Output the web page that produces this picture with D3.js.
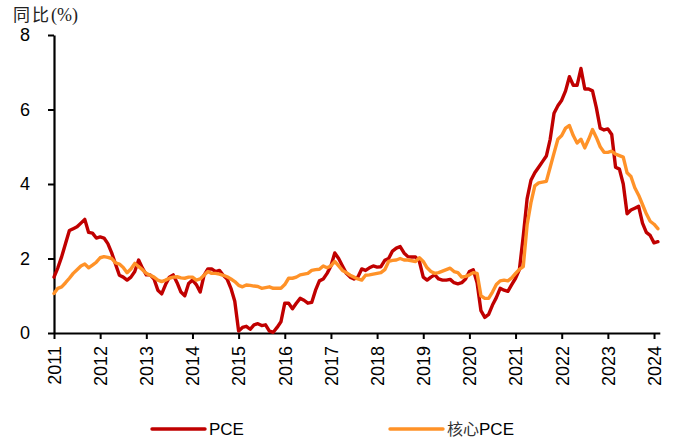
<!DOCTYPE html>
<html>
<head>
<meta charset="utf-8">
<script src="https://cdn.jsdelivr.net/npm/d3@7"></script>
<style>
  body { margin: 0; background: #fff; }
  svg { display: block; font-family: "Liberation Sans", Arial, sans-serif; }
</style>
</head>
<body>
<div id="chart"></div>
<script>
// monthly YoY %, Jan 2011 - Feb 2024
const pce = [
  1.5, 1.75, 2.05, 2.4, 2.75, 2.8, 2.85, 2.95, 3.05, 2.7, 2.68, 2.55,      // 2011
  2.58, 2.55, 2.4, 2.15, 1.85, 1.55, 1.5, 1.42, 1.5, 1.65, 1.96, 1.74,     // 2012
  1.56, 1.56, 1.45, 1.15, 1.05, 1.3, 1.5, 1.56, 1.35, 1.1, 1.0, 1.33,      // 2013
  1.42, 1.3, 1.1, 1.55, 1.72, 1.72, 1.65, 1.68, 1.55, 1.45, 1.2, 0.85,     // 2014
  0.05, 0.15, 0.18, 0.1, 0.22, 0.25, 0.2, 0.22, 0.05, 0.02, 0.15, 0.3,     // 2015
  0.8, 0.8, 0.65, 0.8, 0.93, 0.88, 0.8, 0.82, 1.15, 1.4, 1.45, 1.6,        // 2016
  1.8, 2.15, 2.0, 1.8, 1.6, 1.5, 1.45, 1.5, 1.72, 1.68, 1.75, 1.8,         // 2017
  1.77, 1.78, 1.95, 2.0, 2.2, 2.28, 2.32, 2.15, 2.05, 2.04, 2.04, 1.92,    // 2018
  1.5, 1.42, 1.5, 1.56, 1.45, 1.42, 1.42, 1.44, 1.35, 1.32, 1.35, 1.45,    // 2019
  1.65, 1.7, 1.35, 0.6, 0.42, 0.5, 0.75, 0.95, 1.2, 1.15, 1.12, 1.3,       // 2020
  1.47, 1.7, 2.6, 3.6, 4.1, 4.3, 4.45, 4.6, 4.75, 5.2, 5.9, 6.1,           // 2021
  6.25, 6.5, 6.88, 6.65, 6.65, 7.1, 6.55, 6.55, 6.5, 6.05, 5.5, 5.45,      // 2022
  5.48, 5.33, 4.45, 4.4, 4.0, 3.2, 3.3, 3.35, 3.4, 2.95, 2.7, 2.62,        // 2023
  2.42, 2.45                                                              // 2024
];
const corePce = [
  1.06, 1.2, 1.24, 1.35, 1.47, 1.6, 1.7, 1.8, 1.85, 1.75, 1.82, 1.9,       // 2011
  2.02, 2.05, 2.03, 2.0, 1.88, 1.85, 1.76, 1.62, 1.72, 1.87, 1.78, 1.7,    // 2012
  1.6, 1.55, 1.5, 1.42, 1.38, 1.42, 1.47, 1.5, 1.51, 1.48, 1.47, 1.5,      // 2013
  1.5, 1.42, 1.45, 1.55, 1.65, 1.6, 1.6, 1.58, 1.55, 1.51, 1.45, 1.38,     // 2014
  1.28, 1.24, 1.29, 1.28, 1.26, 1.25, 1.2, 1.22, 1.24, 1.2, 1.2, 1.2,      // 2015
  1.3, 1.47, 1.47, 1.5, 1.56, 1.58, 1.6, 1.68, 1.7, 1.71, 1.8, 1.75,       // 2016
  1.8, 1.92, 1.8, 1.68, 1.62, 1.55, 1.5, 1.45, 1.42, 1.55, 1.56, 1.58,     // 2017
  1.6, 1.62, 1.7, 1.92, 1.95, 1.96, 2.0, 1.96, 1.96, 1.94, 1.92, 2.02,     // 2018
  1.92, 1.75, 1.65, 1.6, 1.62, 1.66, 1.7, 1.74, 1.65, 1.62, 1.5, 1.52,     // 2019
  1.56, 1.62, 1.6, 1.0, 0.93, 0.93, 1.1, 1.3, 1.4, 1.42, 1.4, 1.48,        // 2020
  1.6, 1.71, 1.78, 2.9, 3.5, 3.95, 4.03, 4.05, 4.07, 4.45, 4.83, 5.2,      // 2021
  5.3, 5.5, 5.57, 5.3, 5.1, 5.2, 4.97, 5.2, 5.46, 5.25, 5.0, 4.85,         // 2022
  4.85, 4.88, 4.8, 4.76, 4.72, 4.3, 4.2, 3.9, 3.7, 3.45, 3.2, 3.0,         // 2023
  2.92, 2.8                                                               // 2024
];
const years = d3.range(2011, 2025);
const yTicks = [0, 2, 4, 6, 8];
const seriesNames = ["PCE", "核心PCE"];
const seriesColors = ["#C00000", "#FF9228"];

const width = 677, height = 448;
const svg = d3.select("#chart").append("svg")
  .attr("width", width)
  .attr("height", height);

// x is a month index, 0 = Jan 2011
const x = d3.scaleLinear()
  .domain([0, 157.5])
  .range([54, 659.8]);

const y = d3.scaleLinear()
  .domain([0, 8])
  .range([333, 35]);

// y axis
const yAxis = svg.append("g")
  .attr("transform", "translate(" + x(0) + ",0)")
  .call(d3.axisLeft(y).tickValues(yTicks).tickSize(6).tickSizeOuter(0).tickPadding(18));
yAxis.select(".domain").attr("stroke-width", 2.2);
yAxis.selectAll(".tick line").attr("stroke-width", 2);
yAxis.selectAll(".tick text")
  .attr("font-size", 18)
  .attr("fill", "#000")
  .attr("font-family", "Liberation Sans, Arial, sans-serif");

// x axis
const xAxis = svg.append("g")
  .attr("transform", "translate(0," + y(0) + ")")
  .call(d3.axisBottom(x)
    .tickValues(years.map((yr, i) => i * 12))
    .tickFormat((d, i) => years[i])
    .tickSize(6)
    .tickSizeOuter(0));
xAxis.select(".domain").attr("stroke-width", 2.2);
xAxis.selectAll(".tick line").attr("stroke-width", 2);
xAxis.selectAll(".tick text")
  .attr("font-size", 18)
  .attr("fill", "#000")
  .attr("font-family", "Liberation Sans, Arial, sans-serif")
  .attr("text-anchor", "end")
  .attr("dy", "0.35em")
  .attr("transform", "translate(0,13) rotate(-90)")
  .attr("x", 0)
  .attr("y", 0);

// lines
const line = d3.line()
  .x((d, i) => x(i))
  .y(d => y(d));

[pce, corePce].forEach((vals, k) => {
  svg.append("path")
    .datum(vals)
    .attr("fill", "none")
    .attr("stroke", seriesColors[k])
    .attr("stroke-width", 3.4)
    .attr("stroke-linejoin", "round")
    .attr("stroke-linecap", "round")
    .attr("d", line);
});

// y title
const title = svg.append("text")
  .attr("x", 13)
  .attr("y", 21)
  .attr("font-size", 17)
  .attr("fill", "#222");
title.append("tspan").attr("font-family", "Noto Sans CJK SC").attr("letter-spacing", 2).text("同比");
title.append("tspan").attr("font-family", "Liberation Serif").attr("font-size", 18).text("(%)");

// legend
const legendX = [152, 390];
seriesNames.forEach((name, k) => {
  const g = svg.append("g").attr("transform", "translate(" + legendX[k] + ",429)");
  g.append("line")
    .attr("x1", 0).attr("x2", 53)
    .attr("stroke", seriesColors[k])
    .attr("stroke-width", 3.4)
    .attr("stroke-linecap", "round");
  const t = g.append("text")
    .attr("x", 57)
    .attr("dy", "0.35em")
    .attr("font-size", 17)
    .attr("fill", "#000");
  if (k === 1) {
    t.append("tspan").attr("font-family", "Noto Sans CJK SC").attr("font-size", 16).attr("fill", "#333").text("核心");
    t.append("tspan").text("PCE");
  } else {
    t.text(name);
  }
});
</script>
</body>
</html>
